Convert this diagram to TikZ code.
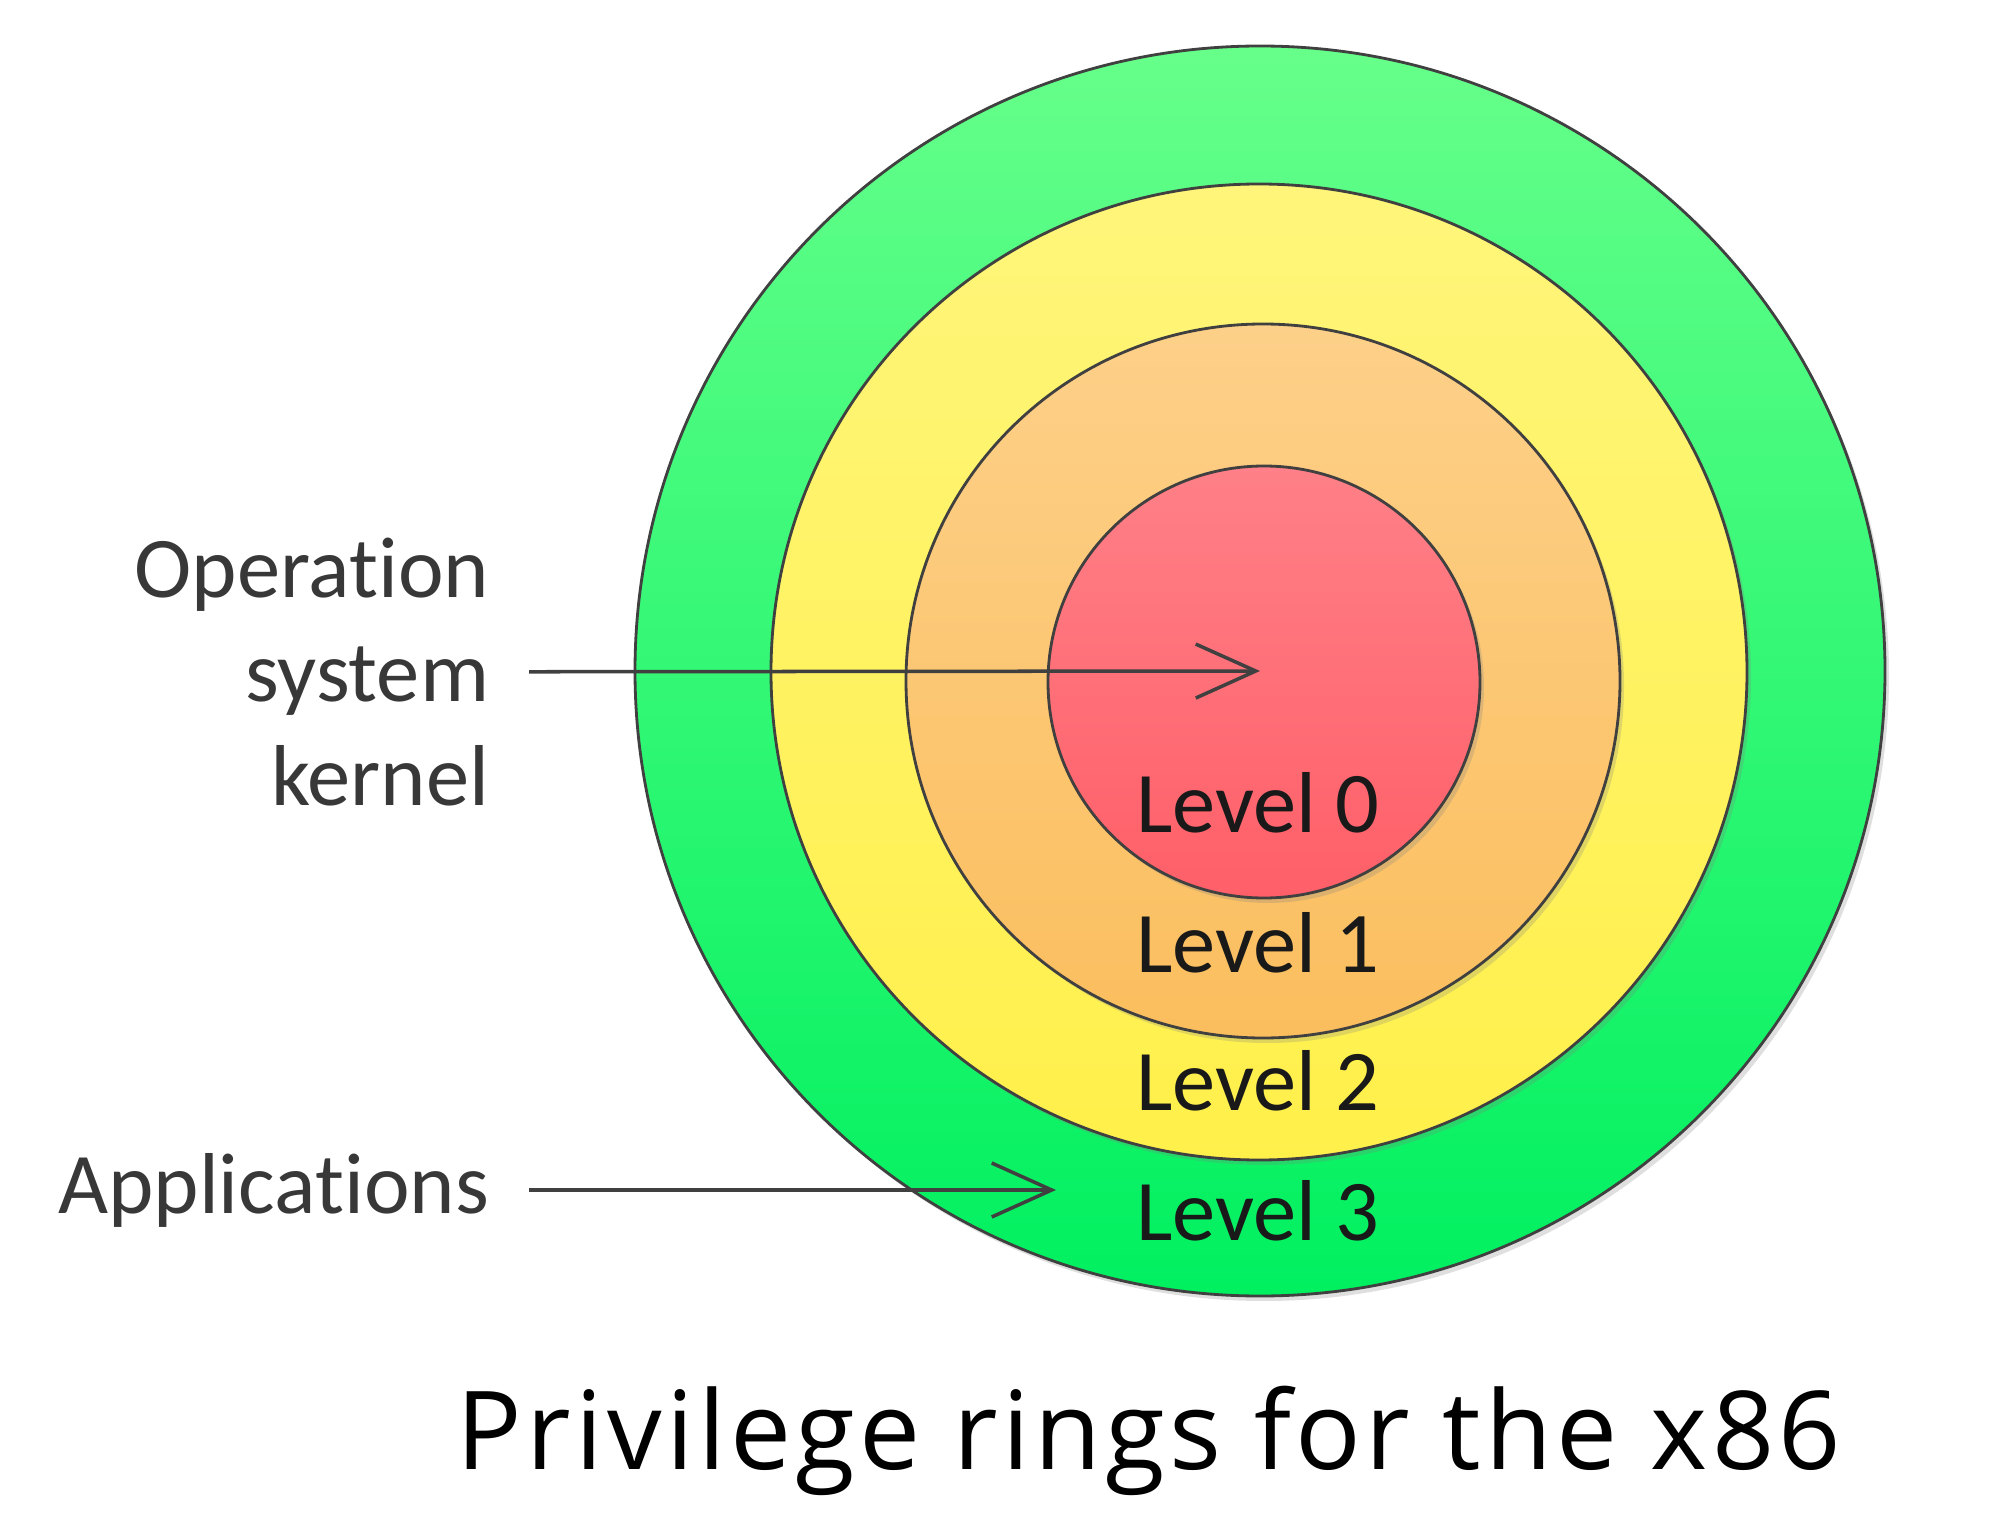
\documentclass[tikz,border=0pt]{standalone}
\usepackage{fontspec}
\setmainfont{Carlito}[Ligatures=NoCommon]
\newfontfamily\captionfont[LetterSpace=4]{Open Sans}
\usetikzlibrary{arrows.meta,shadows}
\definecolor{ringline}{HTML}{404040}
\definecolor{greentop}{HTML}{66FF8A}
\definecolor{greenbot}{HTML}{00F060}
\definecolor{yellowtop}{HTML}{FFF57A}
\definecolor{yellowbot}{HTML}{FFF04A}
\definecolor{orangetop}{HTML}{FDD089}
\definecolor{orangebot}{HTML}{FBBE5E}
\definecolor{redtop}{HTML}{FF8088}
\definecolor{redbot}{HTML}{FF5F68}
\begin{document}
\begin{tikzpicture}[>={Straight Barb[length=6mm,width=5.4mm]},
  ring/.style={circle,draw=ringline,line width=0.8pt,inner sep=0pt,
    drop shadow={shadow xshift=0.04cm,shadow yshift=-0.05cm,opacity=0.25}},
  lvl/.style={anchor=base,font=\fontsize{24.6}{29.5}\selectfont,text=black!90},
  side/.style={anchor=east,inner sep=0.4cm,outer sep=0pt,align=right,
    font=\fontsize{24.6}{29.5}\selectfont,text=black!78},
  pointer/.style={->,draw=ringline,line width=1pt}]
\useasboundingbox (0,0) rectangle (20,15.23);
% rings, outermost first
\node[ring,minimum size=12.5cm,top color=greentop,bottom color=greenbot] (ring3) at (12.60,8.52) {};
\node[ring,minimum size=9.76cm,top color=yellowtop,bottom color=yellowbot] (ring2) at (12.59,8.51) {};
\node[ring,minimum size=7.14cm,top color=orangetop,bottom color=orangebot] (ring1) at (12.63,8.42) {};
\node[ring,minimum size=4.32cm,top color=redtop,bottom color=redbot] (ring0) at (12.64,8.41) {};
\node[lvl] (lvl0) at (12.58,6.91) {Level 0};
\node[lvl] (lvl1) at (12.58,5.51) {Level 1};
\node[lvl] (lvl2) at (12.58,4.13) {Level 2};
\node[lvl] (lvl3) at (12.58,2.83) {Level 3};
% who lives where
\node[side] (kernel) at (5.29,8.51) {Operation\\system\\kernel};
\node[side] (apps) at (5.29,3.33) {Applications};
\coordinate (apptip) at (10.56,3.33);
\draw[pointer] (kernel) -- (ring3.center);
\draw[pointer] (apps) -- (apptip);
\node[anchor=base,font=\captionfont\fontsize{31}{36}\selectfont] (title) at (11.49,0.54) {Privilege rings for the x86};
\end{tikzpicture}
\end{document}
